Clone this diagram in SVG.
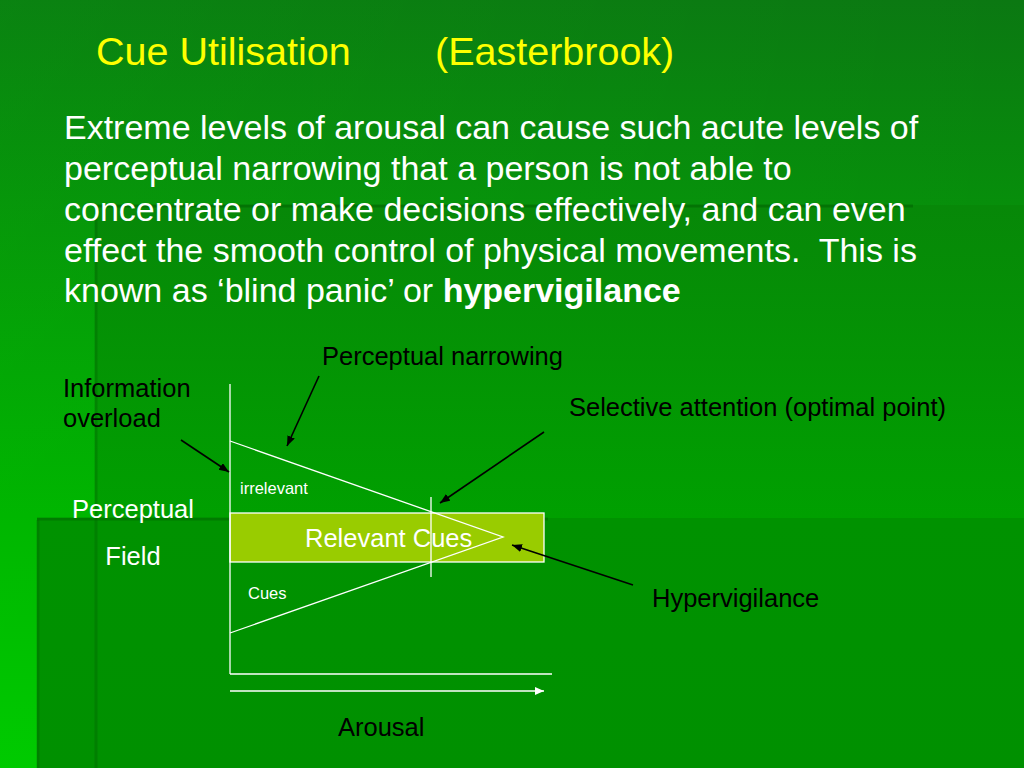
<svg xmlns="http://www.w3.org/2000/svg" width="1024" height="768" viewBox="0 0 1024 768">
<defs>
<linearGradient id="gBase" x1="0" y1="0" x2="0" y2="1">
<stop offset="0" stop-color="#0b7812"/>
<stop offset="0.67" stop-color="#00b000"/>
<stop offset="1" stop-color="#00c600"/>
</linearGradient>
<linearGradient id="gBaseH" x1="0" y1="0" x2="1" y2="0">
<stop offset="0" stop-color="#00ff00" stop-opacity="0.08"/>
<stop offset="1" stop-color="#00ff00" stop-opacity="0"/>
</linearGradient>
<linearGradient id="gA" gradientUnits="userSpaceOnUse" x1="0" y1="0" x2="0" y2="518">
<stop offset="0" stop-color="#0a7e0c"/>
<stop offset="0.4" stop-color="#078808"/>
<stop offset="1" stop-color="#00a000"/>
</linearGradient>
<linearGradient id="gB" gradientUnits="userSpaceOnUse" x1="0" y1="518" x2="0" y2="768">
<stop offset="0" stop-color="#009200"/>
<stop offset="1" stop-color="#009000"/>
</linearGradient>
<marker id="ab" markerUnits="userSpaceOnUse" markerWidth="12" markerHeight="10" refX="10" refY="4" orient="auto">
<path d="M0,0 L10,4 L0,8 Z" fill="#000"/>
</marker>
<marker id="aw" markerUnits="userSpaceOnUse" markerWidth="12" markerHeight="10" refX="9" refY="4" orient="auto">
<path d="M0,0 L9,4 L0,8 Z" fill="#fff"/>
</marker>
</defs>
<style>
.t{font-family:"Liberation Sans",Arial,sans-serif}
.title{font-size:39.5px;fill:#ffff00}
.body{font-size:34px;fill:#fff;white-space:pre}
.lbl{font-size:25.5px;fill:#000}
.wl{font-size:25.5px;fill:#fff}
.sm{font-size:16.5px;fill:#fff}
.ax{stroke:#fff;stroke-width:1.3;fill:none}
.ar{stroke:#000;stroke-width:1.6;fill:none;marker-end:url(#ab)}
</style>

<g id="background">
<rect x="0" y="0" width="1024" height="768" fill="url(#gBase)"/>
<rect x="0" y="0" width="1024" height="768" fill="url(#gBaseH)"/>
<rect x="95" y="205" width="929" height="563" fill="url(#gA)"/>
<rect x="37" y="518" width="987" height="250" fill="url(#gB)"/>
<line x1="95" y1="206" x2="913" y2="206" stroke="#005a00" stroke-opacity="0.45" stroke-width="3"/>
<line x1="96" y1="207" x2="96" y2="768" stroke="#005a00" stroke-opacity="0.3" stroke-width="3"/>
<line x1="37" y1="519" x2="548" y2="519" stroke="#005a00" stroke-opacity="0.4" stroke-width="3"/>
<line x1="38" y1="520" x2="38" y2="768" stroke="#005a00" stroke-opacity="0.3" stroke-width="3"/>
</g>

<g id="title">
<text class="t title" x="96" y="65">Cue Utilisation</text>
<text class="t title" x="435" y="65">(Easterbrook)</text>
</g>

<g id="body">
<text class="t body" x="64" y="139">Extreme levels of arousal can cause such acute levels of</text>
<text class="t body" x="64" y="180">perceptual narrowing that a person is not able to</text>
<text class="t body" x="64" y="221">concentrate or make decisions effectively, and can even</text>
<text class="t body" x="64" y="262">effect the smooth control of physical movements.  This is</text>
<text class="t body" x="64" y="302">known as ‘blind panic’ or <tspan font-weight="bold">hypervigilance</tspan></text>
</g>

<g id="chart">
<rect x="230" y="513" width="314" height="49" fill="#99cc00" stroke="#fff" stroke-width="1.3"/>
<line class="ax" x1="230" y1="384" x2="230" y2="674"/>
<line class="ax" x1="230" y1="674" x2="552" y2="674"/>
<polyline class="ax" points="230,441 503,537 230,633"/>
<line class="ax" x1="431" y1="497" x2="431" y2="577"/>
<line class="ax" x1="230" y1="691" x2="544" y2="691" marker-end="url(#aw)"/>
</g>

<g id="node-irrelevant"><text class="t sm" x="240" y="494">irrelevant</text></g>
<g id="node-cues"><text class="t sm" x="248" y="599">Cues</text></g>
<g id="node-relevant"><text class="t wl" x="305" y="547">Relevant Cues</text></g>
<g id="node-field"><text class="t wl" text-anchor="middle" x="133" y="518">Perceptual</text><text class="t wl" text-anchor="middle" x="133" y="565">Field</text></g>
<g id="node-narrowing"><text class="t lbl" x="322" y="365">Perceptual narrowing</text></g>
<g id="node-overload"><text class="t lbl" x="63" y="397">Information</text><text class="t lbl" x="63" y="427">overload</text></g>
<g id="node-selective"><text class="t lbl" x="569" y="416">Selective attention (optimal point)</text></g>
<g id="node-hyper"><text class="t lbl" x="652" y="607">Hypervigilance</text></g>
<g id="node-arousal"><text class="t lbl" x="338" y="736">Arousal</text></g>

<g id="connectors">
<line class="ar" x1="319" y1="376" x2="287" y2="446"/>
<line class="ar" x1="181" y1="440" x2="229" y2="472"/>
<line class="ar" x1="544" y1="432" x2="440" y2="503"/>
<line class="ar" x1="633" y1="585" x2="512" y2="545"/>
</g>
</svg>
